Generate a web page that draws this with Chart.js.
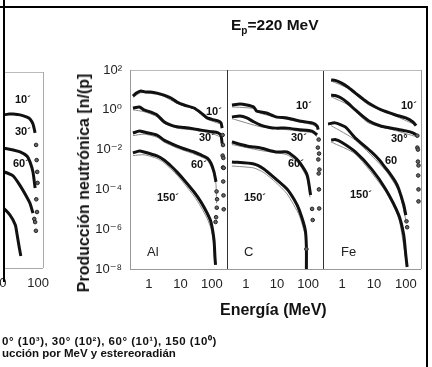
<!DOCTYPE html>
<html><head><meta charset="utf-8">
<script src="https://cdn.jsdelivr.net/npm/chart.js@4/dist/chart.umd.min.js"></script>
<style>
body{margin:0;background:#fff;}
#wrap{position:relative;width:432px;height:367px;overflow:hidden;background:#fff;font-family:"Liberation Sans",Arial,sans-serif;color:#111;}
canvas{position:absolute;top:0;}
.t{position:absolute;white-space:nowrap;line-height:1;}
.b{font-weight:bold;}
.bar{position:absolute;background:#000;}
</style></head><body><div id="wrap">
<canvas id="cL" width="160" height="367" style="left:-100px"></canvas>
<canvas id="cAl" width="432" height="367" style="left:0"></canvas>
<canvas id="cC" width="432" height="367" style="left:0"></canvas>
<canvas id="cFe" width="432" height="367" style="left:0"></canvas>
<div style="position:absolute;left:0;top:0;width:3px;height:276px;background:#fff"></div>
<div class="bar" style="left:0;top:6px;width:428px;height:2px"></div>
<div class="bar" style="left:3px;top:0;width:2px;height:282px"></div>
<div class="bar" style="left:426px;top:6px;width:2px;height:361px"></div>
<div class="t b" style="left:231px;top:17px;font-size:15.5px">E<span style="font-size:10px;position:relative;top:4px">p</span>=220 MeV</div>
<div class="t b" style="left:220px;top:302px;font-size:16px">Energía (MeV)</div>
<div class="t b" style="left:84px;top:183px;font-size:16px;transform:translate(-50%,-50%) rotate(-90deg)">Producción neutrónica [n/(p]</div>
<div class="t b" style="left:2px;top:336px;font-size:11.5px;letter-spacing:0.5px">0° (10³), 30° (10²), 60° (10¹), 150 (10⁰)</div>
<div class="t b" style="left:2px;top:348px;font-size:11.5px">ucción por MeV y estereoradián</div>
<div id="labels"></div>
</div>
<script>
const FONT = '"Liberation Sans", "DejaVu Sans", Arial, sans-serif';
// axes
const xTickVals = [1, 10, 100];
const xTickValsLeft = [10, 100];
const yTickVals = [1e-8, 1e-6, 1e-4, 1e-2, 1, 1e2];
const yTickText = ['10⁻⁸', '10⁻⁶', '10⁻⁴', '10⁻²', '10⁰', '10²'];
const panelNames = ['Al', 'C', 'Fe'];

// ---- left (cut-off) panel, [E MeV, yield]
const left10 = [[5,0.65],[13.4,0.65],[18,0.72],[23,0.72],[34.5,0.65],[52,0.5],[62,0.4],[74,0.22],[84,0.078]];
const left10m = [[89,0.019],[92,3.2e-3],[95,8e-4],[97,2.2e-4]];
const left30 = [[5,0.016],[13.4,0.013],[23,0.0105],[34.5,8.3e-3],[52,5.1e-3],[62,2.6e-3],[74,7.9e-4],[84,1.2e-4]];
const left30m = [[90,3.2e-5],[94,7.2e-6]];
const left60 = [[5,1.26e-3],[13.4,7.9e-4],[22.8,5e-4],[34.5,1.6e-4],[52,4e-5],[62,2e-5],[74,6.3e-6]];
const left60m = [[80,3.2e-6],[84,2.2e-6],[88,7.9e-7]];
const left150 = [[5,5e-5],[10.6,1.6e-5],[19,5e-6],[26,1.55e-6],[29,4.8e-7],[33,1.05e-7],[36,4.1e-8]];

// ---- Al
const al10 = [[0.31,4.9],[0.4,6.9],[0.55,8.7],[0.8,7.8],[1.1,7.8],[1.8,6.9],[3,5.5],[5,3.9],[7.8,2.45],[13,1.74],[27,1.23],[45,0.7],[70,0.39],[116,0.31],[156,0.28],[194,0.22],[210,0.12]];
const al10m = [[218,0.054],[224,0.017],[230,3.8e-3],[236,1.2e-3]];
const al30 = [[0.31,1.23],[0.5,1.38],[0.7,0.98],[1.1,0.78],[1.8,0.55],[3,0.25],[5,0.17],[7.8,0.14],[13,0.13],[27,0.11],[45,0.095],[93,0.08],[156,0.07],[194,0.05],[210,0.02]];
const al30m = [[218,5e-3],[224,1.26e-3],[228,2.5e-4],[232,5e-5],[236,1e-5]];
const al60 = [[0.31,0.068],[0.5,0.085],[0.7,0.076],[1.8,0.054],[3,0.03],[7.8,0.015],[13,0.011],[27,7.6e-3],[45,5.4e-3],[70,3.8e-3],[93,2.1e-3],[116,7.6e-4],[134,2.4e-4]];
const al60m = [[140,7.9e-5],[145,3.2e-5],[142,1.2e-5],[135,4e-6],[130,2.3e-6]];
const al150 = [[0.31,6.8e-3],[0.5,8.5e-3],[0.7,7.6e-3],[1.8,4.8e-3],[3,3e-3],[5,1.5e-3],[7.8,7.4e-4],[13,3e-4],[27,7.4e-5],[45,2.3e-5],[70,6.5e-6],[93,2.3e-6],[116,2.9e-7],[125,3.5e-8],[130,1.6e-8]];
const al10c = [[0.31,4.2],[0.55,7.2],[1.8,6],[3,4.7],[7.8,2.1],[27,1.08],[70,0.34],[194,0.19]];
const al30c = [[0.31,1],[0.7,0.8],[1.8,0.45],[3,0.21],[7.8,0.12],[27,0.095],[93,0.068],[194,0.042]];
const al60c = [[0.31,0.05],[0.7,0.06],[1.8,0.042],[3,0.024],[7.8,0.012],[27,6e-3],[70,3e-3],[116,6e-4],[134,1.8e-4],[140,2e-5]];
const al150c = [[0.31,5e-3],[0.7,5.5e-3],[1.8,3.6e-3],[3,2.2e-3],[7.8,5.2e-4],[13,2e-4],[27,4.6e-5],[45,1.3e-5],[70,3.5e-6],[93,1.1e-6],[110,2.5e-7],[120,3e-8]];

// ---- C
const c10 = [[0.36,1.74],[0.65,1.95],[1.08,1.74],[1.8,1.38],[2.2,0.87],[3,0.78],[4.6,0.69],[9.3,0.44],[21,0.39],[52,0.275],[134,0.22],[194,0.155],[210,0.1]];
const c10m = [[218,0.032],[224,6.3e-3],[230,1e-3]];
const c30 = [[0.36,0.44],[0.65,0.49],[1.08,0.39],[1.8,0.25],[3,0.17],[5.8,0.13],[9.3,0.12],[21,0.12],[52,0.1],[134,0.085],[194,0.055]];
const c30m = [[205,0.0126],[212,3.2e-3],[218,6.3e-4],[222,1e-4],[226,1.1e-5]];
const c60 = [[0.36,0.024],[1.08,0.0151],[3,0.012],[9.3,7.6e-3],[21,7.6e-3],[36,4.3e-3],[52,2.4e-3],[93,5.3e-4],[120,5.2e-5]];
const c60m = [[134,1.05e-5],[140,2.9e-6]];
const c150 = [[0.36,2.4e-3],[1.8,1.9e-3],[3.8,1.07e-3],[9.3,3.3e-4],[21,1.05e-4],[36,3e-5],[52,9.1e-6],[81,9.1e-7],[88,1.26e-7],[88,1e-8]];
const c150m = [[88,1e-7]];
const c10c = [[0.36,1.4],[1.8,1.15],[3,0.66],[21,0.33],[134,0.18],[194,0.13]];
const c30c = [[0.36,0.36],[3,0.14],[21,0.1],[134,0.07],[194,0.045]];
const c60c = [[0.36,0.018],[3,9e-3],[21,5.5e-3],[52,1.8e-3],[93,3.5e-4],[115,4e-5]];
const c150c = [[0.36,1.5e-3],[1.8,1.2e-3],[3.8,7e-4],[9.3,2.2e-4],[21,6e-5],[52,5e-6],[81,5e-7]];

// ---- Fe
const fe10 = [[0.45,31.6],[0.6,30],[0.93,22.4],[1.5,14.1],[2.6,6.9],[4.5,3.5],[6.7,2.2],[17,0.98],[48,0.55],[100,0.39],[167,0.245],[210,0.16]];
const fe10m = [[230,0.05],[240,0.01],[250,1.6e-3]];
const fe30 = [[0.45,5.5],[0.6,5.2],[0.93,3.9],[1.5,2.2],[2.6,0.98],[6.7,0.28],[17,0.15],[48,0.11],[100,0.087],[167,0.069],[210,0.055]];
const fe30m = [[230,0.0126],[240,2.5e-3],[245,5e-4],[250,1e-4],[250,2.5e-5]];
const fe60 = [[0.36,0.195],[0.6,0.22],[1.25,0.138],[2.6,0.038],[8.3,7.6e-3],[15,2.9e-3],[23,1.2e-3],[29,7.6e-4],[48,2.3e-4],[60,1.05e-4],[86,1.66e-5],[100,5.1e-6]];
const fe60m = [[105,2.5e-6],[110,1.26e-6]];
const fe150 = [[0.45,0.03],[0.6,0.032],[0.93,0.024],[2.6,7.6e-3],[8.3,1.07e-3],[23,1.05e-4],[60,5.1e-6],[86,5.1e-7],[100,5e-8],[110,1.26e-8]];
const fe10c = [[0.45,28],[1.5,12],[6.7,1.8],[48,0.48],[167,0.2]];
const fe30c = [[0.45,4.5],[1.5,1.8],[6.7,0.22],[48,0.09],[210,0.045]];
const fe60c = [[0.45,0.16],[2.6,0.03],[23,9e-4],[60,8e-5],[100,3e-6]];
const fe150c = [[0.45,0.024],[2.6,6e-3],[23,8e-5],[60,3.5e-6],[100,3e-8]];

// ---- text labels inside panels
const angleLabels = [
  ['10´',15,100],['30´',15,132],['60´',13,164],
  ['10´',206,112],['30´',199,138],['60´',191,165],['150´',157,198],
  ['10´',296,106],['30´',291,138],['60´',288,164],['150´',244,198],
  ['10´',401,106],['30°',391,139],['60',385,161],['150´',350,195]
];
const panelNamePos = [[147,252],[244,252],[341,252]];

const pts = a => a.map(([x,y]) => ({x, y}));
const exp = a => ({data: pts(a), borderColor:'#111', borderWidth:3, pointRadius:0, fill:false, tension:0.2, order:1});
const calc = a => ({data: pts(a), borderColor:'#8a8a8a', borderWidth:1, pointRadius:0, fill:false, tension:0.2, order:2});
const mark = a => ({data: pts(a), showLine:false, pointRadius:1.8, pointBorderWidth:1, pointBorderColor:'#222', pointBackgroundColor:'#666', order:0});

const framePlugin = {
  id: 'frame',
  afterDatasetsDraw(chart, args, o) {
    const {left, right, top, bottom} = chart.chartArea;
    const ctx = chart.ctx;
    ctx.save(); ctx.lineWidth = 1;
    const ln = (x1, y1, x2, y2, c) => { if (!c) return; ctx.strokeStyle = c; ctx.beginPath(); ctx.moveTo(x1, y1); ctx.lineTo(x2, y2); ctx.stroke(); };
    ln(left, top + 0.5, right, top + 0.5, o.top);
    ln(left, bottom + 0.5, right, bottom + 0.5, o.bottom);
    ln(left + 0.5, top, left + 0.5, bottom, o.left);
    ln(right + 0.5, top, right + 0.5, bottom, o.right);
    ctx.restore();
  }
};

function panel(id, area, cfg) {
  const canvas = document.getElementById(id);
  const W = canvas.width, H = canvas.height;
  const yW = cfg.yAxis ? 40 : 0;
  const xH = 30;
  new Chart(canvas, {
    type: 'line',
    data: {datasets: cfg.datasets},
    options: {
      responsive: false, animation: false, devicePixelRatio: 1,
      layout: {padding: {left: area.left - yW, top: area.top, right: W - area.right, bottom: H - area.bottom - xH}},
      plugins: {legend: {display: false}, tooltip: {enabled: false}, frame: cfg.frame},
      scales: {
        x: {type: 'logarithmic', min: cfg.xmin, max: cfg.xmax,
            afterFit: s => { s.height = xH; },
            afterBuildTicks: s => { s.ticks = cfg.xticks.map(v => ({value: v})); },
            ticks: {font: {size: 13, family: FONT}, color: '#222', padding: 8, maxRotation: 0, autoSkip: false, callback: v => String(v)},
            grid: {display: false, drawTicks: false}, border: {display: false}},
        y: {type: 'logarithmic', min: 1e-8, max: 1e2, display: !!cfg.yAxis,
            afterFit: s => { s.width = yW; },
            afterBuildTicks: s => { s.ticks = yTickVals.map(v => ({value: v})); },
            ticks: {font: {size: 13, family: FONT}, color: '#222', padding: 8, autoSkip: false, callback: (v, i) => yTickText[i]},
            grid: {display: false, drawTicks: false}, border: {display: false}}
      }
    },
    plugins: [framePlugin]
  });
}

panel('cL', {left: 40, right: 143, top: 72, bottom: 268}, {
  xmin: 0.3, xmax: 134, xticks: xTickValsLeft,
  frame: {top: '#bbb', bottom: '#aaa', right: '#aaa'},
  datasets: [exp(left10), mark(left10m), exp(left30), mark(left30m), exp(left60), mark(left60m), exp(left150)]
});
panel('cAl', {left: 130, right: 227, top: 70, bottom: 269}, {
  xmin: 0.25, xmax: 300, xticks: xTickVals, yAxis: true,
  frame: {top: '#bbb', bottom: '#999', left: '#999'},
  datasets: [calc(al10c), calc(al30c), calc(al60c), calc(al150c),
             exp(al10), exp(al30), exp(al60), exp(al150),
             mark(al10m), mark(al30m), mark(al60m)]
});
panel('cC', {left: 227, right: 323, top: 70, bottom: 269}, {
  xmin: 0.25, xmax: 300, xticks: xTickVals,
  frame: {top: '#bbb', bottom: '#999', left: '#333', right: '#333'},
  datasets: [calc(c10c), calc(c30c), calc(c60c), calc(c150c),
             exp(c10), exp(c30), exp(c60), exp(c150),
             mark(c10m), mark(c30m), mark(c60m), mark(c150m)]
});
panel('cFe', {left: 323, right: 421, top: 70, bottom: 269}, {
  xmin: 0.25, xmax: 300, xticks: xTickVals,
  frame: {top: '#bbb', bottom: '#999', right: '#999'},
  datasets: [calc(fe10c), calc(fe30c), calc(fe60c), calc(fe150c),
             exp(fe10), exp(fe30), exp(fe60), exp(fe150),
             mark(fe10m), mark(fe30m), mark(fe60m)]
});

const lab = document.getElementById('labels');
angleLabels.forEach(([t, x, cy]) => {
  const d = document.createElement('div');
  d.className = 't b'; d.textContent = t;
  d.style.cssText = `left:${x}px;top:${cy - 6}px;font-size:11px`;
  lab.appendChild(d);
});
panelNames.forEach((t, i) => {
  const d = document.createElement('div');
  d.className = 't'; d.textContent = t;
  d.style.cssText = `left:${panelNamePos[i][0]}px;top:${panelNamePos[i][1] - 7}px;font-size:13px;color:#222`;
  lab.appendChild(d);
});
</script>
</body></html>
